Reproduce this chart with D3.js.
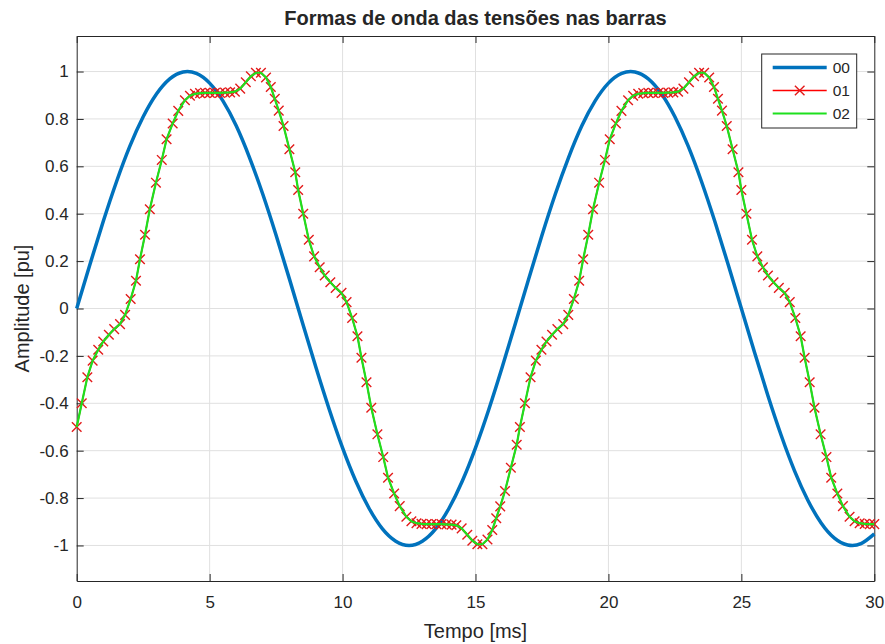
<!DOCTYPE html>
<html>
<head>
<meta charset="utf-8">
<script src="https://cdn.jsdelivr.net/npm/d3@7"></script>
<style>
body { margin: 0; background: #fff; }
text { font-family: "Liberation Sans", Arial, Helvetica, sans-serif; fill: #262626; }
</style>
</head>
<body>
<div id="grafico"></div>
<script>
// barra 00: tempo [ms] e amplitude [pu]
var tempo00 = [0,0.5,1,1.5,2,2.5,3,3.5,4,4.5,5,5.5,6,6.5,7,7.5,8,8.5,9,9.5,10,10.5,11,11.5,12,12.5,13,13.5,14,14.5,15,15.5,16,16.5,17,17.5,18,18.5,19,19.5,20,20.5,21,21.5,22,22.5,23,23.5,24,24.5,25,25.5,26,26.5,27,27.5,28,28.5,29,29.5,30];
var tensao00 = [0,0.187,0.368,0.536,0.685,0.809,0.905,0.969,0.998,0.992,0.951,0.876,0.771,0.637,0.482,0.309,0.125,-0.063,-0.249,-0.426,-0.588,-0.729,-0.844,-0.930,-0.982,-1,-0.982,-0.930,-0.844,-0.729,-0.588,-0.426,-0.249,-0.063,0.125,0.309,0.482,0.637,0.771,0.876,0.951,0.992,0.998,0.969,0.905,0.809,0.685,0.536,0.368,0.187,0,-0.187,-0.368,-0.536,-0.685,-0.809,-0.905,-0.969,-0.998,-0.992,-0.951];

// barra 01 (com marcadores)
var tempo01 = [0.00,0.19,0.40,0.60,0.81,1.00,1.21,1.41,1.63,1.82,2.03,2.23,2.38,2.57,2.75,2.98,3.20,3.38,3.61,3.82,4.07,4.26,4.45,4.64,4.83,5.01,5.20,5.39,5.58,5.77,5.95,6.15,6.36,6.55,6.74,6.93,7.12,7.30,7.45,7.60,7.78,8.00,8.22,
  8.33,8.52,8.73,8.93,9.14,9.33,9.54,9.74,9.96,10.15,10.36,10.56,10.71,10.90,11.08,11.31,11.53,11.71,11.94,12.15,12.40,12.59,12.78,12.97,13.16,13.34,13.53,13.72,13.91,14.10,14.28,14.48,14.69,14.88,15.07,15.26,15.45,15.63,15.78,15.93,16.11,16.33,16.55,
  16.67,16.86,17.07,17.27,17.48,17.67,17.88,18.08,18.30,18.49,18.70,18.90,19.05,19.24,19.42,19.65,19.87,20.05,20.28,20.49,20.74,20.93,21.12,21.31,21.50,21.68,21.87,22.06,22.25,22.44,22.62,22.82,23.03,23.22,23.41,23.60,23.79,23.97,24.12,24.27,24.45,24.67,24.89,
  25.00,25.19,25.40,25.60,25.81,26.00,26.21,26.41,26.63,26.82,27.03,27.23,27.38,27.57,27.75,27.98,28.20,28.38,28.61,28.82,29.07,29.26,29.45,29.64,29.83,30.00];
var tensao01 = [-0.50,-0.40,-0.29,-0.22,-0.174,-0.139,-0.111,-0.087,-0.066,-0.027,0.040,0.117,0.208,0.311,0.419,0.531,0.627,0.714,0.781,0.834,0.879,0.898,0.906,0.909,0.910,0.910,0.910,0.910,0.911,0.912,0.915,0.928,0.955,0.980,0.995,0.995,0.975,0.935,0.885,0.835,0.770,0.672,0.575,
  0.50,0.40,0.29,0.22,0.174,0.139,0.111,0.087,0.066,0.027,-0.040,-0.117,-0.208,-0.311,-0.419,-0.531,-0.627,-0.714,-0.781,-0.834,-0.879,-0.898,-0.906,-0.909,-0.910,-0.910,-0.910,-0.910,-0.911,-0.912,-0.915,-0.928,-0.955,-0.980,-0.995,-0.995,-0.975,-0.935,-0.885,-0.835,-0.770,-0.672,-0.575,
  -0.50,-0.40,-0.29,-0.22,-0.174,-0.139,-0.111,-0.087,-0.066,-0.027,0.040,0.117,0.208,0.311,0.419,0.531,0.627,0.714,0.781,0.834,0.879,0.898,0.906,0.909,0.910,0.910,0.910,0.910,0.911,0.912,0.915,0.928,0.955,0.980,0.995,0.995,0.975,0.935,0.885,0.835,0.770,0.672,0.575,
  0.50,0.40,0.29,0.22,0.174,0.139,0.111,0.087,0.066,0.027,-0.040,-0.117,-0.208,-0.311,-0.419,-0.531,-0.627,-0.714,-0.781,-0.834,-0.879,-0.898,-0.906,-0.909,-0.910,-0.910];

// barra 02 coincide com a 01 no grafico
var tempo02 = tempo01;
var tensao02 = tensao01;

var ticksX = [0,5,10,15,20,25,30];
var ticksY = [-1,-0.8,-0.6,-0.4,-0.2,0,0.2,0.4,0.6,0.8,1];
var nomes = ["00","01","02"];

var width = 885;
var height = 644;
var esq = 76.7, dir = 874.3, topo = 36, base = 581;

var svg = d3.select("#grafico")
  .append("svg")
  .attr("width", width)
  .attr("height", height);

var x = d3.scaleLinear().domain([0,30]).range([esq, dir]);
var y = d3.scaleLinear().domain([-1.15,1.15]).range([base, topo]);

// grade
svg.append("g").selectAll("line")
  .data(ticksX.slice(1, -1))
  .enter().append("line")
  .attr("x1", function(d){ return x(d); })
  .attr("x2", function(d){ return x(d); })
  .attr("y1", topo).attr("y2", base)
  .attr("stroke", "#e0e0e0").attr("stroke-width", 1);
svg.append("g").selectAll("line")
  .data(ticksY)
  .enter().append("line")
  .attr("y1", function(d){ return y(d); })
  .attr("y2", function(d){ return y(d); })
  .attr("x1", esq).attr("x2", dir)
  .attr("stroke", "#e0e0e0").attr("stroke-width", 1);

var fmt = function(d){ return String(+d.toFixed(1)); };

// eixos
var eixoX = svg.append("g").attr("transform", "translate(0," + base + ")")
  .call(d3.axisBottom(x).tickValues(ticksX).tickSize(-7).tickSizeOuter(0).tickPadding(15).tickFormat(fmt));
var eixoY = svg.append("g").attr("transform", "translate(" + esq + ",0)")
  .call(d3.axisLeft(y).tickValues(ticksY).tickSize(-7).tickSizeOuter(0).tickPadding(8).tickFormat(fmt));
var eixoTopo = svg.append("g").attr("transform", "translate(0," + topo + ")")
  .call(d3.axisTop(x).tickValues(ticksX).tickSize(-7).tickSizeOuter(0).tickFormat(""));
var eixoDir = svg.append("g").attr("transform", "translate(" + dir + ",0)")
  .call(d3.axisRight(y).tickValues(ticksY).tickSize(-7).tickSizeOuter(0).tickFormat(""));

[eixoX, eixoY, eixoTopo, eixoDir].forEach(function(g){
  g.attr("font-size", 17);
  g.selectAll("path, line").attr("stroke", "#262626").attr("stroke-width", 1);
  g.selectAll("text").attr("font-size", 17).attr("fill", "#262626")
    .attr("font-family", "'Liberation Sans', Arial, sans-serif");
});

// curvas
var linha00 = d3.line()
  .x(function(d, i){ return x(tempo00[i]); })
  .y(function(d){ return y(d); })
  .curve(d3.curveNatural);
svg.append("path")
  .attr("d", linha00(tensao00))
  .attr("fill", "none")
  .attr("stroke", "#0072BD")
  .attr("stroke-width", 3.5);

var linha01 = d3.line()
  .x(function(d, i){ return x(tempo01[i]); })
  .y(function(d){ return y(d); });
svg.append("path")
  .attr("d", linha01(tensao01))
  .attr("fill", "none")
  .attr("stroke", "#ff0000")
  .attr("stroke-width", 1.5);

var m = 4.8;
function xis(sel){
  sel.append("path")
    .attr("d", "M" + (-m) + "," + (-m) + "L" + m + "," + m + "M" + (-m) + "," + m + "L" + m + "," + (-m))
    .attr("stroke", "#e31a1a")
    .attr("stroke-width", 1.4)
    .attr("fill", "none");
}
svg.append("g").selectAll("g")
  .data(tensao01)
  .enter().append("g")
  .attr("transform", function(d, i){ return "translate(" + x(tempo01[i]) + "," + y(d) + ")"; })
  .call(xis);

var linha02 = d3.line()
  .x(function(d, i){ return x(tempo02[i]); })
  .y(function(d){ return y(d); });
svg.append("path")
  .attr("d", linha02(tensao02))
  .attr("fill", "none")
  .attr("stroke", "#1ee01e")
  .attr("stroke-width", 2.2);

// titulo e rotulos
svg.append("text")
  .attr("x", (esq + dir) / 2).attr("y", 25)
  .attr("text-anchor", "middle")
  .attr("font-size", 20).attr("font-weight", "bold")
  .text("Formas de onda das tensões nas barras");
svg.append("text")
  .attr("x", (esq + dir) / 2).attr("y", 638)
  .attr("text-anchor", "middle")
  .attr("font-size", 20)
  .text("Tempo [ms]");
svg.append("text")
  .attr("transform", "translate(29," + y(0) + ") rotate(-90)")
  .attr("text-anchor", "middle")
  .attr("font-size", 20)
  .text("Amplitude [pu]");

// legenda
var leg = svg.append("g").attr("transform", "translate(761.7,54)");
leg.append("rect")
  .attr("width", 95).attr("height", 74)
  .attr("fill", "#fff").attr("stroke", "#262626").attr("stroke-width", 1);
var legCores = ["#0072BD", "#ff0000", "#1ee01e"];
var legLarg = [3.5, 1.5, 2.2];
nomes.forEach(function(n, i){
  var yy = 13.5 + i * 23;
  leg.append("line")
    .attr("x1", 11).attr("x2", 65).attr("y1", yy).attr("y2", yy)
    .attr("stroke", legCores[i]).attr("stroke-width", legLarg[i]);
  if (i === 1) {
    leg.append("g").attr("transform", "translate(38," + yy + ")").call(xis);
  }
  leg.append("text")
    .attr("x", 71).attr("y", yy + 5.5)
    .attr("font-size", 15.5)
    .text(n);
});
</script>
</body>
</html>
